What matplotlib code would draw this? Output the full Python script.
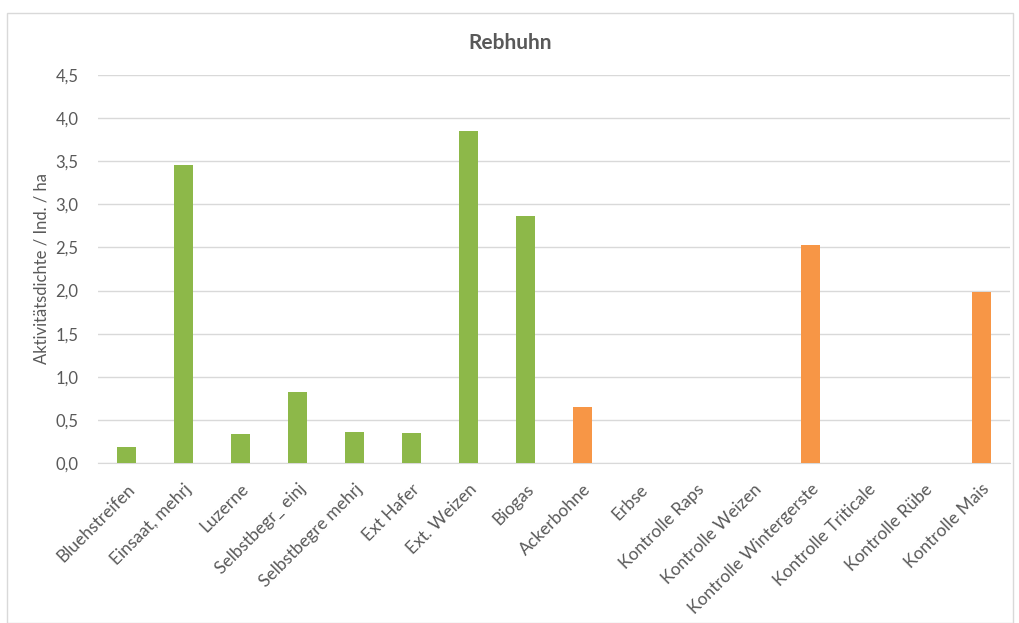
import matplotlib.pyplot as plt
from matplotlib.patches import Rectangle

plt.rcParams['font.family'] = ['Lato', 'DejaVu Sans']

categories = ["Bluehstreifen", "Einsaat, mehrj", "Luzerne", "Selbstbegr_ einj",
              "Selbstbegre mehrj", "Ext Hafer", "Ext. Weizen", "Biogas",
              "Ackerbohne", "Erbse", "Kontrolle Raps", "Kontrolle Weizen",
              "Kontrolle Wintergerste", "Kontrolle Triticale", "Kontrolle Rübe",
              "Kontrolle Mais"]
values = [0.19, 3.46, 0.34, 0.82, 0.36, 0.35, 3.85, 2.87,
          0.65, 0.0, 0.0, 0.0, 2.53, 0.0, 0.0, 1.98]
groups = ["m"] * 8 + ["k"] * 8
yticks = [0.0, 0.5, 1.0, 1.5, 2.0, 2.5, 3.0, 3.5, 4.0, 4.5]

colors = {"m": "#8DB849", "k": "#F79646"}
txt = "#595959"

fig = plt.figure(figsize=(10.2, 6.23), dpi=100)
fig.patches.append(Rectangle((7 / 1020, 0), 1006 / 1020, 1 - 13 / 623,
                             transform=fig.transFigure, fill=False,
                             edgecolor="#D9D9D9", linewidth=1))
ax = fig.add_axes([98 / 1020, 1 - 463 / 623, 912 / 1020, 388 / 623])

x = range(len(categories))
ax.bar(x, values, width=0.34, color=[colors[g] for g in groups], zorder=3)

ax.set_xlim(-0.5, len(categories) - 0.5)
ax.set_ylim(0, 4.5)
ax.set_yticks(yticks)
ax.set_yticklabels([f"{t:.1f}".replace(".", ",") for t in yticks], fontsize=12, color=txt)
ax.set_xticks(list(x))
ax.set_xticklabels(categories, rotation=45, ha="right", rotation_mode="anchor",
                   fontsize=12.5, color=txt)
ax.tick_params(axis="y", length=0, pad=14)
ax.tick_params(axis="x", length=0, pad=13)
ax.yaxis.grid(True, color="#D9D9D9", linewidth=1, zorder=0)
for s in ["top", "right", "left"]:
    ax.spines[s].set_visible(False)
ax.spines["bottom"].set_color("#D9D9D9")

ax.set_ylabel("Aktivitätsdichte / Ind. / ha", fontsize=12, color=txt, labelpad=4)
fig.text(0.5, 1 - 43 / 623, "Rebhuhn", ha="center", va="center",
         fontsize=15, fontweight="bold", color=txt)

plt.savefig("out.png", dpi=100)
